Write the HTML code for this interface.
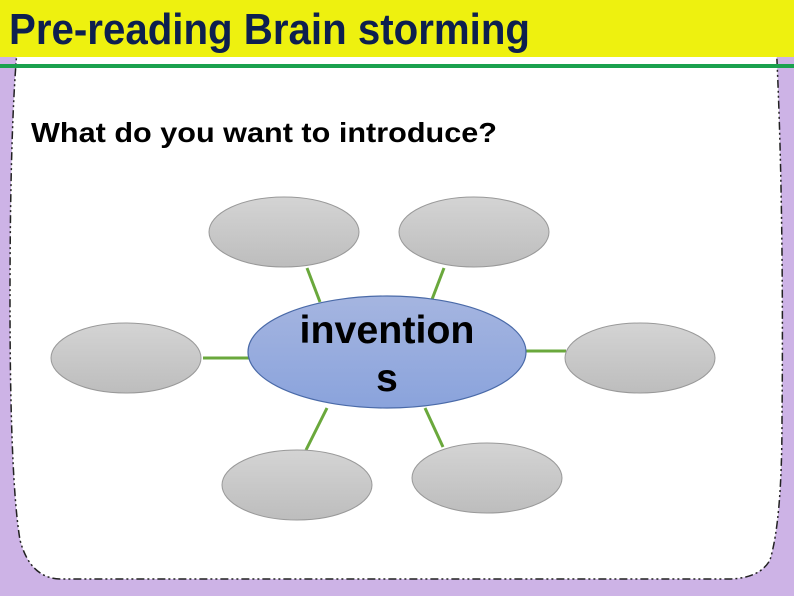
<!DOCTYPE html>
<html><head><style>
html,body{margin:0;padding:0;width:794px;height:596px;overflow:hidden;background:#cdb3e6;}
</style></head><body>
<svg width="794" height="596" viewBox="0 0 794 596" xmlns="http://www.w3.org/2000/svg" style="position:absolute;left:0;top:0">
<defs>
<linearGradient id="g" x1="0" y1="0" x2="0" y2="1"><stop offset="0" stop-color="#d4d4d4"/><stop offset="1" stop-color="#bdbdbd"/></linearGradient>
<linearGradient id="b" x1="0" y1="0" x2="0" y2="1"><stop offset="0" stop-color="#a5b5e0"/><stop offset="1" stop-color="#8aa3dc"/></linearGradient>
</defs>
<rect x="0" y="0" width="794" height="596" fill="#cdb3e6"/>
<path d="M18,40 L776,40 Q784,200 782,420 Q782,520 770,560 Q760,578 730,579 L60,579 Q30,578 20,540 Q10,480 10,300 Q10,120 18,40 Z" fill="#fff" stroke="#222" stroke-width="1.5" stroke-dasharray="8,3,2,3,2,3"/>
<rect x="0" y="0" width="794" height="57" fill="#eef10f"/>
<text x="9" y="44" font-family="Liberation Sans, sans-serif" font-weight="bold" font-size="44" fill="#0d1f4f" textLength="521" lengthAdjust="spacingAndGlyphs">Pre-reading  Brain storming</text>
<rect x="0" y="64" width="794" height="4" fill="#1aa14e"/>
<text x="31" y="142" font-family="Liberation Sans, sans-serif" font-weight="bold" font-size="28" fill="#000" textLength="466" lengthAdjust="spacingAndGlyphs">What do you want to introduce?</text>
<g stroke="#6aa83c" stroke-width="3">
<line x1="307" y1="268" x2="320" y2="302"/>
<line x1="444" y1="268" x2="431" y2="302"/>
<line x1="203" y1="358" x2="249" y2="358"/>
<line x1="526" y1="351" x2="566" y2="351"/>
<line x1="327" y1="408" x2="306" y2="450"/>
<line x1="425" y1="408" x2="443" y2="447"/>
</g>
<g fill="url(#g)" stroke="#999" stroke-width="1">
<ellipse cx="284" cy="232" rx="75" ry="35"/>
<ellipse cx="474" cy="232" rx="75" ry="35"/>
<ellipse cx="126" cy="358" rx="75" ry="35"/>
<ellipse cx="640" cy="358" rx="75" ry="35"/>
<ellipse cx="297" cy="485" rx="75" ry="35"/>
<ellipse cx="487" cy="478" rx="75" ry="35"/>
</g>
<ellipse cx="387" cy="352" rx="139" ry="56" fill="url(#b)" stroke="#4a6aa8" stroke-width="1.2"/>
<text x="387" y="343" text-anchor="middle" font-family="Liberation Sans, sans-serif" font-weight="bold" font-size="39" fill="#000" textLength="175" lengthAdjust="spacingAndGlyphs">invention</text>
<text x="387" y="391" text-anchor="middle" font-family="Liberation Sans, sans-serif" font-weight="bold" font-size="39" fill="#000">s</text>
</svg>
</body></html>
